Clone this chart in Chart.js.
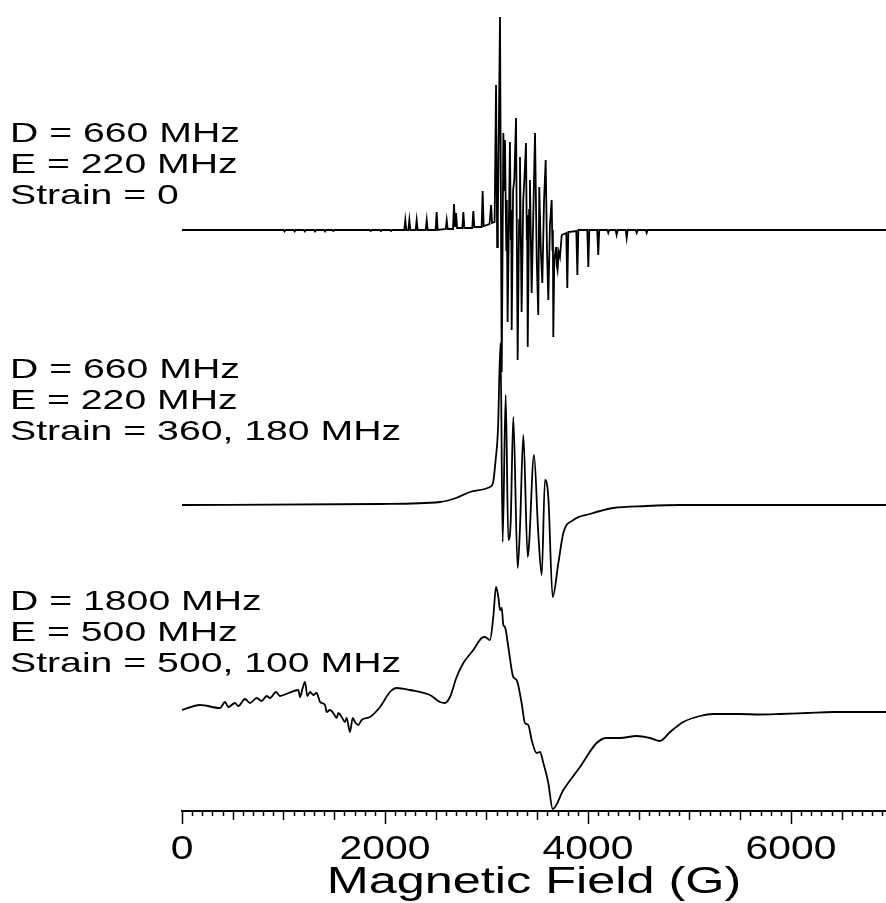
<!DOCTYPE html>
<html lang="en">
<head>
    <meta charset="UTF-8">
    <title>Simulated EPR spectra</title>
    <script src="https://cdn.jsdelivr.net/npm/chart.js"></script>
    <style>
        body { margin: 0; background: #fff; }
        #wrap { width: 886px; height: 903px; }
    </style>
</head>
<body>
    <div id="wrap">
        <canvas id="eprChart"></canvas>
    </div>

    <script>
        // field in Gauss, signal in arbitrary units relative to each trace's baseline

        // D = 660 MHz, E = 220 MHz, no strain
        const topField = [
            0, 1000, 1010, 1020, 1100, 1110, 1120, 1200, 1210, 1220, 1300, 1310, 1320,
            1400, 1410, 1420, 1480, 1490, 1500, 1850, 1860, 1870, 1950, 1960, 1970, 2050, 2060, 2070,
            2190, 2200, 2210, 2230, 2240, 2250, 2302, 2312, 2322, 2401, 2411, 2421,
            2499, 2509, 2519, 2598, 2608, 2618, 2670, 2680, 2690, 2700, 2710,
            2762, 2772, 2782, 2860, 2870, 2880, 2952, 2962, 2972, 3030, 3045, 3055,
            3080, 3094, 3105, 3112, 3133, 3150, 3166, 3175, 3182, 3195, 3200, 3208, 3231, 3240, 3244, 3248, 3262, 3274,
            3291, 3307, 3318, 3322, 3330, 3346, 3362, 3373, 3389, 3397, 3400, 3406, 3420, 3428, 3445, 3462, 3478, 3495,
            3510, 3520, 3535, 3550, 3567, 3583, 3596, 3609, 3625, 3642, 3650, 3654, 3658, 3668, 3685, 3692, 3700,
            3712, 3724, 3741, 3786, 3796, 3806, 3885, 3895, 3905, 3993, 4003, 4013,
            4091, 4101, 4111, 4190, 4200, 4210, 4272, 4282, 4292, 4371, 4381, 4391,
            4470, 4480, 4490, 4568, 4578, 4588, 4640, 6936
        ];
        const topSignal = [
            0, 0, -1.5, 0, 0, -1.5, 0, 0, -1.5, 0, 0, -1.5, 0,
            0, -1.5, 0, 0, -1, 0, 0, -1, 0, 0, -1, 0, 0, -1, 0,
            0, 10, 0, 0, 10, 0, 0, 10, 0, 0, 10, 0,
            0, 18, 0, 1, 10, 1, 1, 26, 3, 17, 2,
            2, 18, 2, 2, 19, 3, 3, 39, 4, 6, 25, 7,
            8, 145, -17, 10, 213, -142, 97, 40, 90, -20, 30, -92, 88, -10, 20, -100, 40, 50,
            112, -130, -20, 10, 73, -82, 30, 50, 87, -10, 15, -117, 20, 50, -63, 20, 97, -30,
            -85, 43, -20, -53, 30, 70, -20, -70, 5, 30, -20, 0, -107, -30, -17, -35, -40,
            -22, -27, -5, -3, -58, -2, -1, -45, 0, 0, -37, 0,
            0, -25, 0, 0, -3, 0, 0, -5, 0, 0, -8, 0,
            0, -3, 0, 0, -3, 0, 0, 0
        ];

        // D = 660 MHz, E = 220 MHz, strain 360, 180 MHz
        const midField = [
            0, 1951, 2542, 2700, 2837, 3034, 3064, 3090, 3113, 3138, 3159, 3189, 3215, 3238,
            3264, 3307, 3330, 3363, 3406, 3419, 3468, 3510, 3544, 3576, 3609, 3652, 3708,
            3757, 3856, 4020, 4249, 4578, 4906, 6936
        ];
        const midSignal = [
            0, 1, 3, 7, 13, 18, 22, 45, 75, 162, -37, 110, -35, -18,
            88, -63, -22, 70, -52, -40, 50, -28, -70, 25, 8, -92, -58,
            -28, -15, -9, -3, -1, 0, 0
        ];

        // D = 1800 MHz, E = 500 MHz, strain 500, 100 MHz
        const lowField = [
            0, 177, 374, 424, 456, 522, 555, 621, 670, 736, 785, 834, 867, 926, 965, 1050,
            1146, 1163, 1189, 1212, 1235, 1261, 1294, 1327, 1360, 1409, 1425, 1458, 1491,
            1524, 1540, 1573, 1606, 1622, 1655, 1682, 1704, 1737, 1770, 1852, 1951, 2049,
            2115, 2246, 2443, 2542, 2591, 2640, 2706, 2772, 2870, 2952, 2985, 3034, 3067,
            3094, 3117, 3133, 3150, 3166, 3182, 3215, 3264, 3297, 3346, 3379, 3412, 3445,
            3494, 3527, 3560, 3609, 3652, 3757, 3921, 4085, 4184, 4315, 4480, 4611, 4709,
            4808, 4939, 5103, 5234, 5497, 5694, 5891, 6154, 6417, 6936
        ];
        const lowSignal = [
            1, 6, 3, 9, 4, 8, 5, 12, 8, 13, 10, 15, 13, 19, 15, 18,
            21, 14, 23, 29, 15, 19, 16, 18, 9, 6, -1, 1, -2,
            -7, -2, -6, -11, -7, -21, -7, -11, -14, -9, -6, 4, 19,
            23, 21, 16, 9, 8, 14, 34, 48, 61, 73, 74, 71, 94,
            124, 114, 101, 103, 86, 84, 64, 34, 31, 8, -12, -14, -29,
            -42, -41, -52, -72, -98, -79, -56, -32, -27, -27, -25, -27, -30,
            -21, -11, -5, -3, -3, -3.5, -3, -2, -1, -1
        ];

        const topLabel = ['D = 660 MHz', 'E = 220 MHz', 'Strain = 0'];
        const midLabel = ['D = 660 MHz', 'E = 220 MHz', 'Strain = 360, 180 MHz'];
        const lowLabel = ['D = 1800 MHz', 'E = 500 MHz', 'Strain = 500, 100 MHz'];
        const xTitle = 'Magnetic Field (G)';

        const majorStep = 2000;   // labelled ticks
        const midStep = 500;
        const minorStep = 100;

        // the traces are stacked: vertical offset of each baseline
        const OFFSET_TOP = 581, OFFSET_MID = 306, OFFSET_LOW = 100;
        // the figure's lettering is wide, so text is stretched horizontally
        const TICK_STRETCH = 1.2;
        const WIDE_STRETCH = 1.4;

        function trace(xs, ys, offset) {
            return xs.map((x, i) => ({ x: x, y: ys[i] + offset }));
        }

        const wideText = {
            id: 'wideText',
            beforeDraw(chart) {
                const ctx = chart.ctx;
                if (ctx._wide) return;
                const fill = ctx.fillText;
                ctx.fillText = function (text, x, y, maxWidth) {
                    const k = this._stretch || (text === xTitle ? WIDE_STRETCH : TICK_STRETCH);
                    this.save();
                    this.translate(x, y);
                    this.scale(k, 1);
                    if (maxWidth === undefined) fill.call(this, text, 0, 0);
                    else fill.call(this, text, 0, 0, maxWidth / k);
                    this.restore();
                };
                ctx._wide = true;
            },
            afterDraw(chart) {
                const ctx = chart.ctx;
                const xs = chart.scales.x;

                // tick marks: long every 2000, medium every 500, short every 100
                ctx.save();
                ctx.strokeStyle = '#000';
                ctx.lineWidth = 1.5;
                xs.ticks.forEach(t => {
                    const px = Math.round(xs.getPixelForValue(t.value)) + 0.5;
                    const len = t.value % majorStep === 0 ? 13 : (t.value % midStep === 0 ? 9 : 5);
                    ctx.beginPath();
                    ctx.moveTo(px, xs.top);
                    ctx.lineTo(px, xs.top + len);
                    ctx.stroke();
                });
                ctx.restore();

                // parameter captions
                ctx.save();
                ctx._stretch = WIDE_STRETCH;
                ctx.fillStyle = '#000';
                ctx.font = '28px "Liberation Sans", Arial, sans-serif';
                ctx.textAlign = 'left';
                ctx.textBaseline = 'alphabetic';
                const blocks = [[topLabel, 142], [midLabel, 378], [lowLabel, 610]];
                blocks.forEach(([lines, y0]) => {
                    lines.forEach((s, i) => ctx.fillText(s, 10, y0 + i * 31));
                });
                ctx._stretch = 0;
                ctx.restore();
            }
        };

        const lineStyle = {
            borderColor: '#000',
            borderWidth: 1.8,
            pointRadius: 0,
            fill: false
        };

        const ctx = document.getElementById('eprChart').getContext('2d');

        new Chart(ctx, {
            type: 'line',
            data: {
                datasets: [
                    Object.assign({ label: 'Strain = 0', data: trace(topField, topSignal, OFFSET_TOP), tension: 0 }, lineStyle),
                    Object.assign({ label: 'Strain = 360, 180 MHz', data: trace(midField, midSignal, OFFSET_MID), cubicInterpolationMode: 'monotone' }, lineStyle),
                    Object.assign({ label: 'Strain = 500, 100 MHz', data: trace(lowField, lowSignal, OFFSET_LOW), cubicInterpolationMode: 'monotone' }, lineStyle)
                ]
            },
            options: {
                responsive: true,
                maintainAspectRatio: false,
                animation: false,
                layout: { padding: { left: 182, right: 0, top: 0, bottom: 0 } },
                plugins: {
                    legend: { display: false },
                    tooltip: { enabled: false }
                },
                scales: {
                    x: {
                        type: 'linear',
                        min: 0,
                        max: 6936,
                        grid: { display: false, drawTicks: false },
                        border: { display: true, color: '#000', width: 2 },
                        ticks: {
                            stepSize: minorStep,
                            autoSkip: false,
                            maxRotation: 0,
                            includeBounds: false,
                            padding: 18,
                            color: '#000',
                            font: { family: '"Liberation Sans", Arial, sans-serif', size: 34 },
                            callback: v => (v % majorStep === 0 ? String(v) : '')
                        },
                        title: {
                            display: true,
                            text: xTitle,
                            color: '#000',
                            padding: { top: 0, bottom: 2 },
                            font: { family: '"Liberation Sans", Arial, sans-serif', size: 36, lineHeight: 1 }
                        },
                        afterFit: scale => {
                            scale.height = 92;
                            scale.paddingLeft = 0;
                            scale.paddingRight = 0;
                        }
                    },
                    y: {
                        display: false,
                        min: 0,
                        max: 811
                    }
                }
            },
            plugins: [wideText]
        });
    </script>
</body>
</html>
